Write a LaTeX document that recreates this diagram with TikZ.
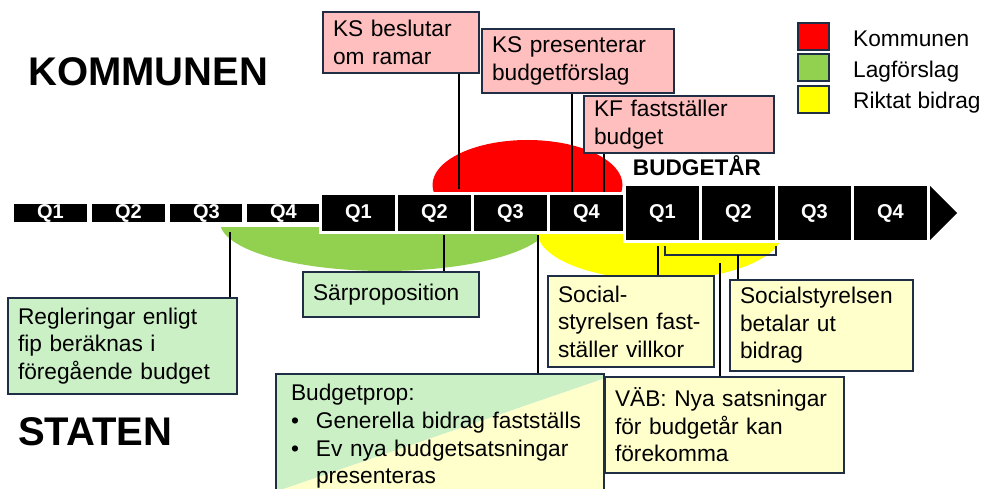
\documentclass[tikz,border=0pt]{standalone}
\usepackage{fontspec}
\setmainfont{Liberation Sans}
\definecolor{navy}{HTML}{1F2D45}
\definecolor{pinkbox}{HTML}{FFBFBF}
\definecolor{greenbox}{HTML}{CCF0C6}
\definecolor{yellowbox}{HTML}{FFFFCC}
\definecolor{redell}{HTML}{FF0000}
\definecolor{greenell}{HTML}{92D050}
\definecolor{yellowell}{HTML}{FFFF00}
\newcommand\boxfont{\fontsize{22.7}{27.6}\selectfont}
\newcommand\qfont{\fontsize{20}{24}\selectfont\bfseries}
\newcommand\bigfont{\fontsize{40}{48}\selectfont\bfseries}
\tikzset{
  qbox/.style={fill=black, draw=white, text=white, font=\qfont, inner sep=0pt},
  qsmall/.style={qbox, line width=5pt, minimum width=78pt, minimum height=23pt},
  qmid/.style={qbox, line width=3pt, minimum width=76pt, minimum height=39pt},
  qlarge/.style={qbox, line width=3pt, minimum width=76pt, minimum height=57pt},
  note/.style={draw=navy, line width=2pt, inner xsep=10pt, inner ysep=0pt, align=left, font=\boxfont, anchor=north west},
  link/.style={line width=2pt, draw=black},
  legsq/.style={draw=navy, line width=2pt, minimum width=31pt, minimum height=27pt, inner sep=0pt},
  legtxt/.style={font=\boxfont, anchor=base west, inner sep=0pt},
}
\begin{document}
\begin{tikzpicture}[x=1pt,y=-1pt]
\clip (0,0) rectangle (981,489);
\fill[white] (0,0) rectangle (981,489);

% half ellipses
\begin{scope}
  \clip (0,222) rectangle (981,489);
  \fill[greenell] (385,222) ellipse [x radius=165, y radius=49];
\end{scope}
\begin{scope}
  \clip (0,231) rectangle (981,489);
  \fill[yellowell] (660,231) ellipse [x radius=123, y radius=49];
\end{scope}
\begin{scope}
  \clip (0,0) rectangle (981,195);
  \fill[redell] (527.5,185) ellipse [x radius=95, y radius=45];
\end{scope}

% timeline
\node[qsmall] (a1) at (50.5,213) {Q1};
\node[qsmall] (a2) at (128.5,213) {Q2};
\node[qsmall] (a3) at (206.5,213) {Q3};
\node[qsmall] (a4) at (283.5,213) {Q4};
\node[qmid] (b1) at (358.5,213) {Q1};
\node[qmid] (b2) at (434.5,213) {Q2};
\node[qmid] (b3) at (510.5,213) {Q3};
\node[qmid] (b4) at (586.5,213) {Q4};
\node[qlarge] (c1) at (662.5,213) {Q1};
\node[qlarge] (c2) at (738.5,213) {Q2};
\node[qlarge] (c3) at (814.5,213) {Q3};
\node[qlarge] (c4) at (890.5,213) {Q4};
\fill[black] (930,186) -- (957,213) -- (930,240) -- cycle;

\node[font=\fontsize{22.6}{27}\selectfont\bfseries, inner sep=0pt] (by) at (697,166) {BUDGETÅR};

% titles
\node[font=\bigfont, anchor=west, inner sep=0pt] (kom) at (28,72) {KOMMUNEN};
\node[font=\bigfont, anchor=west, inner sep=0pt] (sta) at (18,432) {STATEN};

% legend
\node[legsq, fill=redell] (l1) at (813.5,37) {};
\node[legsq, fill=greenell] (l2) at (813.5,68) {};
\node[legsq, fill=yellowell] (l3) at (813.5,100) {};
\node[legtxt] (t1) at (853,47) {Kommunen};
\node[legtxt] (t2) at (853,78) {Lagförslag};
\node[legtxt] (t3) at (853,109) {Riktat bidrag};

% connector end points
\coordinate (e1) at (459,189);
\coordinate (e2) at (572,192);
\coordinate (e3) at (604,192);
\coordinate (e4) at (230,232);
\coordinate (e5) at (444,235);
\coordinate (e6) at (538,235);
\coordinate (e7) at (658,246);
\coordinate (e8) at (738,255);
\coordinate (e9) at (720,263);
\coordinate (k1) at (665,246);
\coordinate (k2) at (776,246);

% boxes
\node[note, fill=pinkbox, minimum width=156pt, minimum height=61pt, text width=136pt] (n1) at (322,11) {KS beslutar\\om ramar};
\node[note, fill=pinkbox, minimum width=192pt, minimum height=64pt, text width=172pt] (n2) at (481,28) {KS presenterar\\budgetförslag};
\node[note, fill=pinkbox, minimum width=190pt, minimum height=57pt, text width=170pt] (n3) at (583,95) {KF fastställer\\budget};
\node[note, fill=greenbox, minimum width=229pt, minimum height=96pt, text width=209pt] (n4) at (7,297) {Regleringar enligt\\fip beräknas i\\föregående budget};
\node[note, fill=greenbox, minimum width=176pt, minimum height=45pt, text width=156pt] (n5) at (302,271) {Särproposition};
\fill[greenbox] (275,373) -- (603,373) -- (603,379) -- (275,492) -- cycle;
\fill[yellowbox] (603,379) -- (603,500) -- (275,500) -- (275,492) -- cycle;
\node[note, inner xsep=15pt, minimum width=328pt, minimum height=125pt, text width=298pt] (n6) at (275,373) {Budgetprop:\\\makebox[25pt][l]{•}Generella bidrag fastställs\\\makebox[25pt][l]{•}Ev nya budgetsatsningar\\\hspace*{25pt}presenteras};
\node[note, fill=yellowbox, minimum width=166pt, minimum height=91pt, text width=146pt] (n7) at (547,275) {Social-\\styrelsen fast-\\ställer villkor};
\node[note, fill=yellowbox, minimum width=183pt, minimum height=91pt, text width=163pt] (n8) at (729,279) {Socialstyrelsen\\betalar ut\\bidrag};
\node[note, fill=yellowbox, minimum width=239pt, minimum height=96pt, text width=219pt] (n9) at (604,376) {VÄB: Nya satsningar\\för budgetår kan\\förekomma};

% connectors
\draw[link] (n1.south -| e1) -- (e1);
\draw[link, line width=2.8pt] (n2.south -| e2) -- (e2);
\draw[link] (n3.south -| e3) -- (e3);
\draw[link] (n4.north -| e4) -- (e4);
\draw[link] (n5.north -| e5) -- (e5);
\draw[link] (n6.north -| e6) -- (e6);
\draw[link] (n7.north -| e7) -- (e7);
\draw[line width=2pt, draw=navy] (k1) -- (k1 |- e8) -- (k2 |- e8) -- (k2);
\draw[link] (n8.north -| e8) -- (e8);
\draw[link] (n9.north -| e9) -- (e9);
\end{tikzpicture}
\end{document}
